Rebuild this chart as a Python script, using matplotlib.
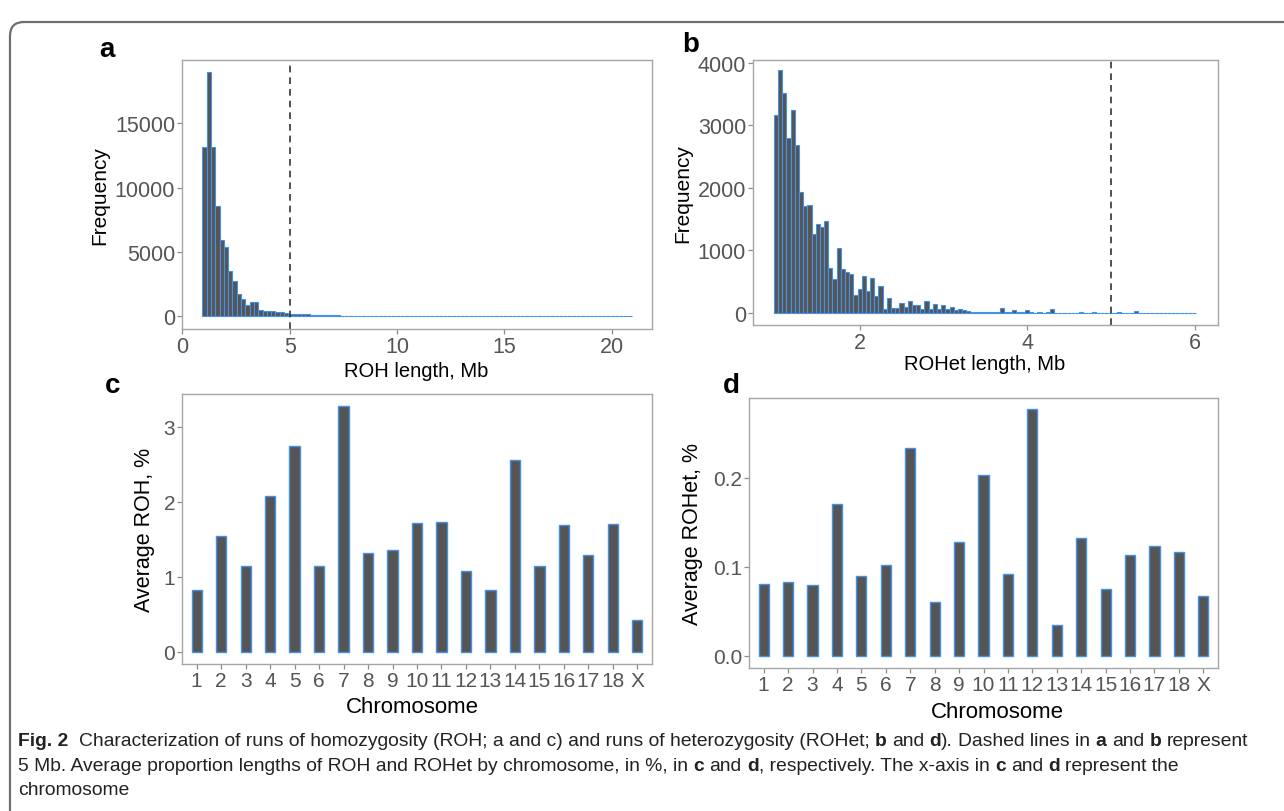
"""
Fig. 2 - ROH / ROHet length histograms and average proportion by chromosome
"""
import numpy as np
import matplotlib.pyplot as plt
from matplotlib.patches import FancyBboxPatch
from matplotlib.transforms import IdentityTransform

# ---- data ----
# a: ROH length histogram, bins of 0.2 Mb starting at 0.93 Mb
roh_start = 0.93
roh_bin = 0.2
roh_counts = [13150, 18980, 13150, 8590, 5920, 5350, 3540, 2770, 1730, 1340,
              880, 1140, 1140, 520, 390, 440, 390, 310, 310, 260,
              200, 180, 160, 150, 140, 120, 110, 100, 90, 80,
              70, 65, 60, 55, 50, 45, 42, 40, 36, 32,
              30, 28, 25, 22, 20, 18, 16, 15, 14, 12,
              12, 10, 10, 9, 8, 8, 7, 6, 6, 5,
              5, 5, 4, 4, 4, 3, 3, 3, 3, 2,
              2, 2, 2, 2, 1, 1, 1, 1, 1, 1,
              1, 1, 1, 0, 1, 0, 0, 1, 0, 0,
              0, 1, 0, 0, 0, 0, 0, 0, 0, 1]

# b: ROHet length histogram, bins of 0.05 Mb starting at 0.97 Mb
rohet_start = 0.97
rohet_bin = 0.05
rohet_counts = [3160, 3880, 3520, 2790, 3235, 2680, 1925, 1700, 1725, 1260,
                1420, 1365, 1475, 710, 535, 1035, 695, 660, 615, 285,
                390, 590, 355, 560, 270, 430, 70, 235, 80, 80,
                165, 100, 185, 120, 120, 70, 190, 70, 135, 55,
                120, 60, 90, 40, 65, 50, 30, 20, 15, 12,
                10, 12, 8, 10, 80, 15, 10, 42, 10, 8,
                42, 8, 6, 10, 6, 8, 58, 6, 5, 6,
                4, 6, 5, 8, 4, 5, 12, 4, 5, 6,
                4, 3, 12, 4, 3, 5, 32, 4, 3, 5,
                3, 2, 4, 3, 2, 2, 3, 2, 2, 1, 2]

threshold_mb = 5

chromosomes = ['1', '2', '3', '4', '5', '6', '7', '8', '9', '10',
               '11', '12', '13', '14', '15', '16', '17', '18', 'X']
avg_roh = [0.83, 1.55, 1.14, 2.08, 2.75, 1.15, 3.28, 1.32, 1.36, 1.72,
           1.73, 1.08, 0.83, 2.56, 1.14, 1.69, 1.29, 1.71, 0.42]
avg_rohet = [0.080, 0.083, 0.079, 0.170, 0.089, 0.102, 0.233, 0.060, 0.128, 0.203,
             0.092, 0.277, 0.034, 0.132, 0.075, 0.113, 0.123, 0.116, 0.067]

# ---- style ----
FILL = '#555555'
EDGE = '#4392ea'
FRAME = '#a6a6a6'
TICKCOL = '#555555'
SANS = ['Liberation Sans', 'DejaVu Sans']

plt.rcParams['font.family'] = SANS

W, H = 1284, 812
fig = plt.figure(figsize=(W / 100, H / 100), dpi=100)


def px_axes(left, top, right, bottom):
    return fig.add_axes([left / W, 1 - bottom / H, (right - left) / W, (bottom - top) / H])


def style_axes(ax, tick_size):
    for s in ax.spines.values():
        s.set_color(FRAME)
        s.set_linewidth(1.0)
    ax.tick_params(axis='both', direction='out', length=3.5, width=0.9,
                   color='#8c8c8c', pad=1.5, labelcolor=TICKCOL,
                   labelsize=tick_size)


def histogram(ax, start, width, counts):
    edges = start + width * np.arange(len(counts))
    ax.bar(edges, counts, width=width, align='edge', color=FILL,
           edgecolor=EDGE, linewidth=0.8)
    ax.axvline(threshold_mb, color='#333333', linestyle=(0, (4, 3)), linewidth=1.2)


def set_labels(ax, xlabel, ylabel, xpos, ypos, xsize, ysize):
    ax.set_xlabel(xlabel, fontsize=xsize, color='black')
    ax.set_ylabel(ylabel, fontsize=ysize, color='black')
    ax.xaxis.set_label_coords(*xpos)
    ax.yaxis.set_label_coords(*ypos)
    ax.xaxis.label.set_va('center')
    ax.yaxis.label.set_va('center')


# a
ax_a = px_axes(182, 61, 652, 330)
histogram(ax_a, roh_start, roh_bin, roh_counts)
ax_a.set_xlim(-0.02, 21.87)
ax_a.set_ylim(-986, 19900)
ax_a.set_xticks([0, 5, 10, 15, 20])
ax_a.set_yticks([0, 5000, 10000, 15000])
style_axes(ax_a, 15.5)
set_labels(ax_a, 'ROH length, Mb', 'Frequency', (0.499, -0.156), (-0.175, 0.5), 14.5, 15)

# b
ax_b = px_axes(753, 61, 1218, 326)
histogram(ax_b, rohet_start, rohet_bin, rohet_counts)
ax_b.set_xlim(0.72, 6.28)
ax_b.set_ylim(-193, 4040)
ax_b.set_xticks([2, 4, 6])
ax_b.set_yticks([0, 1000, 2000, 3000, 4000])
style_axes(ax_b, 15.5)
set_labels(ax_b, 'ROHet length, Mb', 'Frequency', (0.499, -0.147), (-0.152, 0.5), 14.5, 15)

# c
pos = np.arange(1, len(chromosomes) + 1)
ax_c = px_axes(182, 395, 652, 665)
ax_c.bar(pos, avg_roh, width=0.42, color=FILL, edgecolor=EDGE, linewidth=1.0)
ax_c.set_xlim(0.4, len(chromosomes) + 0.6)
ax_c.set_ylim(-0.164, 3.44)
ax_c.set_xticks(pos)
ax_c.set_xticklabels(chromosomes)
ax_c.set_yticks([0, 1, 2, 3])
style_axes(ax_c, 15)
set_labels(ax_c, 'Chromosome', 'Average ROH, %', (0.49, -0.158), (-0.08, 0.5), 16, 15.5)

# d
ax_d = px_axes(749, 399, 1218, 669)
ax_d.bar(pos, avg_rohet, width=0.42, color=FILL, edgecolor=EDGE, linewidth=1.0)
ax_d.set_xlim(0.4, len(chromosomes) + 0.6)
ax_d.set_ylim(-0.0139, 0.2897)
ax_d.set_xticks(pos)
ax_d.set_xticklabels(chromosomes)
ax_d.set_yticks([0.0, 0.1, 0.2])
ax_d.set_yticklabels(['0.0', '0.1', '0.2'])
style_axes(ax_d, 15)
set_labels(ax_d, 'Chromosome', 'Average ROHet, %', (0.53, -0.161), (-0.121, 0.5), 16, 15.5)

# panel letters
for letter, (lx, ly) in zip('abcd', [(107, 50), (691, 45), (113, 386), (731, 386)]):
    fig.text(lx / W, 1 - ly / H, letter, fontsize=20, fontweight='bold',
             ha='center', va='center')

# card border
fig.patches.append(FancyBboxPatch((10, -40), 1330, 829, transform=IdentityTransform(),
                                  boxstyle='round,pad=0,rounding_size=14',
                                  facecolor='none', edgecolor='#6e6e6e', linewidth=1.6,
                                  figure=fig))

# caption (runs of normal / bold text)
renderer = fig.canvas.get_renderer()
CAP_SIZE = 13.9


def text_width(s, bold):
    t = fig.text(0, 0, s, fontsize=CAP_SIZE, fontweight='bold' if bold else 'normal')
    w = t.get_window_extent(renderer=renderer).width
    t.remove()
    return w


SPACE = text_width('x x', False) - text_width('xx', False)
SP = None

caption = [
    [('Fig. 2', True), SP, SP, ('Characterization of runs of homozygosity (ROH; a and c) and runs of heterozygosity (ROHet;', False),
     SP, ('b', True), SP, ('and', False), SP, ('d', True), (').', False), SP, ('Dashed lines in', False), SP,
     ('a', True), SP, ('and', False), SP, ('b', True), SP, ('represent', False)],
    [('5 Mb. Average proportion lengths of ROH and ROHet by chromosome, in %, in', False), SP, ('c', True), SP,
     ('and', False), SP, ('d', True), (', respectively. The x-axis in', False), SP, ('c', True), SP,
     ('and', False), SP, ('d', True), SP, ('represent the', False)],
    [('chromosome', False)],
]
line_y = [742, 767, 791]

for runs, ly in zip(caption, line_y):
    x = 18
    for run in runs:
        if run is None:
            x += SPACE
            continue
        txt, bold = run
        t = fig.text(x, H - ly, txt, fontsize=CAP_SIZE,
                     fontweight='bold' if bold else 'normal', color='#222222',
                     transform=IdentityTransform(), ha='left', va='center')
        x += t.get_window_extent(renderer=renderer).width

fig.savefig('out.png', dpi=100)
